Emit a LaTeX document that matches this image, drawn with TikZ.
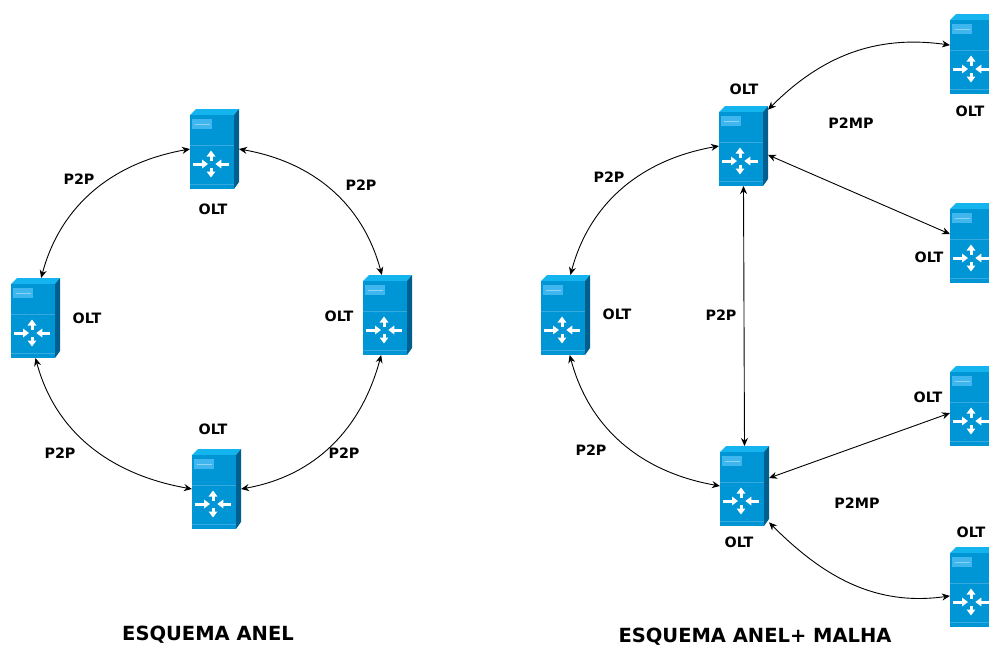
\documentclass[tikz,border=0pt]{standalone}
\usepackage{fontspec}
\setmainfont{DejaVu Sans}
\usepackage{xcolor}
\usetikzlibrary{arrows.meta}

\definecolor{oltfront}{HTML}{0096D6}
\definecolor{olttop}{HTML}{14B4EE}
\definecolor{oltside}{HTML}{005F8E}
\definecolor{oltpanel}{HTML}{40B6EE}
\definecolor{oltline}{HTML}{35A8DE}

\newcommand{\oltglyph}{%
	\begin{scope}[shift={(path picture bounding box.center)}]
		\fill[olttop] (-24.5,-34) -- (-18.5,-40) -- (24.5,-40) -- (19.5,-34) -- cycle;
		\fill[oltside] (19.5,-34) -- (24.5,-40) -- (24.5,33) -- (19.5,40) -- cycle;
		\fill[oltfront] (-24.5,-34) rectangle (19.5,40);
		\fill[oltpanel] (-22.5,-30) rectangle (-2.5,-20);
		\draw[white!40!oltpanel,line width=0.5pt] (-20,-25) -- (-5,-25);
		\draw[oltline,line width=0.5pt] (-24.5,-4) -- (19.5,-4);
		\draw[oltline,line width=0.5pt] (-24.5,35) -- (19.5,35);
		\draw[oltarrow] (-22,15) -- (-6.5,15);
		\draw[oltarrow] (14.5,15) -- (0.8,15);
		\draw[oltarrow] (-3.5,11.5) -- (-3.5,1.5);
		\draw[oltarrow] (-3.5,18.5) -- (-3.5,28.5);
	\end{scope}
}

\tikzset{
	olt/.style={minimum width=49pt,minimum height=80pt,inner sep=0pt,outer sep=0pt,path picture={\oltglyph}},
	oltarrow/.style={white,line width=3pt,-{Triangle[width=8.5pt,length=6pt]}},
	link/.style={black,line width=0.9pt,{Stealth[length=8pt,width=7pt]}-{Stealth[length=8pt,width=7pt]}},
	tag/.style={font=\bfseries\fontsize{14.3}{16}\selectfont,inner sep=0pt},
	title/.style={font=\bfseries\fontsize{19.5}{22}\selectfont,inner sep=0pt}
}

\begin{document}
\begin{tikzpicture}[x=1pt,y=-1pt]
	\useasboundingbox (0,0) rectangle (989,646);
	
	% anel
	\node[olt] (atop) at (214.5,149) {};
	\node[olt] (aleft) at (35.5,318) {};
	\node[olt] (aright) at (387.5,315) {};
	\node[olt] (abottom) at (216.5,489) {};
	
	\draw[link] (atop.west) to[out=190,in=75] (aleft.82);
	\draw[link] (atop.east) to[out=-10,in=105] (aright.98);
	\draw[link] (aright.261) to[out=-105,in=10] (abottom.east);
	\draw[link] (abottom.west) to[out=170,in=-75] (aleft.south);
	
	\node[tag] (ta1) at (79,179) {P2P};
	\node[tag] (ta2) at (361,185) {P2P};
	\node[tag] (ta3) at (60,453) {P2P};
	\node[tag] (ta4) at (344,453) {P2P};
	\node[tag] (oa1) at (213,209) {OLT};
	\node[tag] (oa2) at (87,318) {OLT};
	\node[tag] (oa3) at (339,316) {OLT};
	\node[tag] (oa4) at (213,429) {OLT};
	\node[title] (ta) at (208,635) {ESQUEMA ANEL};
	
	% anel + malha
	\node[olt] (mtop) at (743.5,146) {};
	\node[olt] (mleft) at (565.5,315) {};
	\node[olt] (mbottom) at (744.5,486) {};
	\node[olt] (r1) at (974.5,54) {};
	\node[olt] (r2) at (974.5,243) {};
	\node[olt] (r3) at (974.5,406) {};
	\node[olt] (r4) at (974.5,587) {};
	
	\draw[link] (mtop.west) to[out=190,in=75] (mleft.83);
	\draw[link] (mbottom.west) to[out=170,in=-75] (mleft.276);
	\draw[link] (mtop.south) -- (mbottom.north);
	\draw[link] (mtop.-20) -- (r2.160);
	\draw[link] (mbottom.18) -- (r3.196);
	\draw[link] (mtop.56) to[out=45,in=172] (r1.160);
	\draw[link] (mbottom.-56) to[out=-45,in=188] (r4.200);
	
	\node[tag] (tm1) at (609,177) {P2P};
	\node[tag] (tm2) at (721,315) {P2P};
	\node[tag] (tm3) at (591,450) {P2P};
	\node[tag] (tm4) at (851,123) {P2MP};
	\node[tag] (tm5) at (857,503) {P2MP};
	\node[tag] (om1) at (744,89) {OLT};
	\node[tag] (om2) at (970,111) {OLT};
	\node[tag] (om3) at (617,314) {OLT};
	\node[tag] (om4) at (929,257) {OLT};
	\node[tag] (om5) at (928,397) {OLT};
	\node[tag] (om6) at (739,542) {OLT};
	\node[tag] (om7) at (971,532) {OLT};
	\node[title] (tm) at (755,637) {ESQUEMA ANEL+ MALHA};
\end{tikzpicture}
\end{document}
